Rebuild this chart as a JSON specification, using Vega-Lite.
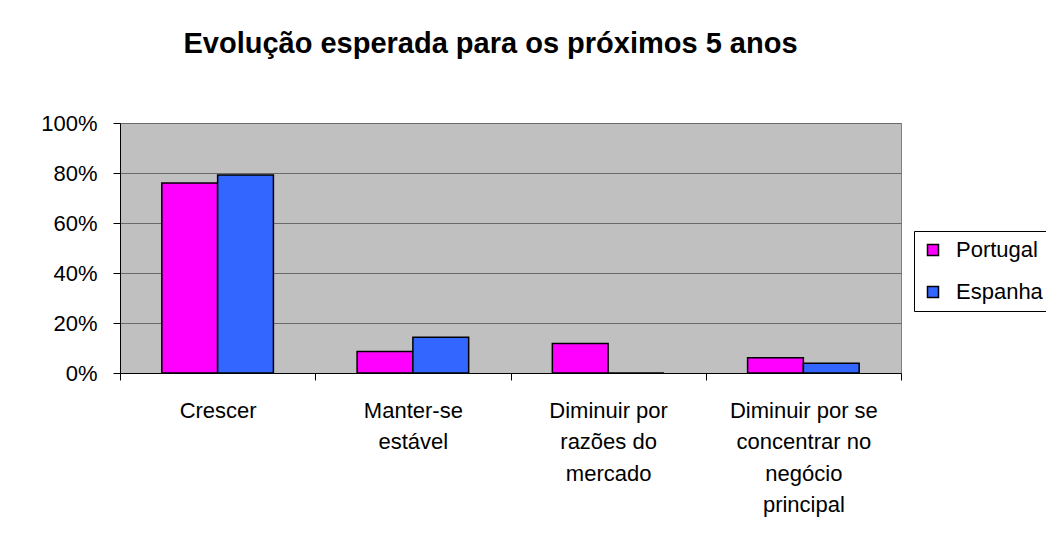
{
  "$schema": "https://vega.github.io/schema/vega-lite/v6.json",
  "width": 781,
  "height": 250,
  "autosize": {"type": "none"},
  "padding": {"left": 120, "top": 123, "right": 145, "bottom": 178},
  "background": "white",
  "title": {
    "text": "Evolução esperada para os próximos 5 anos",
    "font": "Liberation Sans",
    "fontSize": 29,
    "fontWeight": "bold",
    "color": "black",
    "anchor": "middle",
    "frame": "group",
    "baseline": "alphabetic",
    "dx": -20,
    "offset": 30
  },
  "data": {
    "values": [
      {"categoria": "Crescer", "pais": "Portugal", "valor": 0.76},
      {"categoria": "Crescer", "pais": "Espanha", "valor": 0.792},
      {"categoria": "Manter-se estável", "pais": "Portugal", "valor": 0.086},
      {"categoria": "Manter-se estável", "pais": "Espanha", "valor": 0.143},
      {"categoria": "Diminuir por razões do mercado", "pais": "Portugal", "valor": 0.118},
      {"categoria": "Diminuir por razões do mercado", "pais": "Espanha", "valor": 0},
      {"categoria": "Diminuir por se concentrar no negócio principal", "pais": "Portugal", "valor": 0.061},
      {"categoria": "Diminuir por se concentrar no negócio principal", "pais": "Espanha", "valor": 0.039}
    ]
  },
  "mark": {"type": "bar", "stroke": "black", "strokeWidth": 1.5},
  "encoding": {
    "x": {
      "field": "categoria",
      "type": "nominal",
      "sort": ["Crescer", "Manter-se estável", "Diminuir por razões do mercado", "Diminuir por se concentrar no negócio principal"],
      "scale": {"paddingInner": 0, "paddingOuter": 0},
      "axis": {
        "title": null,
        "labelAngle": 0,
        "labelFont": "Liberation Sans",
        "labelFontSize": 22,
        "labelColor": "black",
        "labelBaseline": "top",
        "labelLineHeight": 31.5,
        "labelPadding": 20,
        "labelLimit": 0,
        "tickBand": "extent",
        "tickSize": 7,
        "tickColor": "black",
        "domainColor": "black",
        "labelExpr": "datum.value == 'Manter-se estável' ? ['Manter-se', 'estável'] : datum.value == 'Diminuir por razões do mercado' ? ['Diminuir por', 'razões do', 'mercado'] : datum.value == 'Diminuir por se concentrar no negócio principal' ? ['Diminuir por se', 'concentrar no', 'negócio', 'principal'] : datum.label"
      }
    },
    "xOffset": {
      "field": "pais",
      "type": "nominal",
      "sort": ["Portugal", "Espanha"],
      "scale": {"paddingInner": 0, "paddingOuter": 0.75}
    },
    "y": {
      "field": "valor",
      "type": "quantitative",
      "scale": {"domain": [0, 1], "nice": false},
      "axis": {
        "title": null,
        "values": [0, 0.2, 0.4, 0.6, 0.8, 1],
        "format": ".0%",
        "labelFont": "Liberation Sans",
        "labelFontSize": 22,
        "labelColor": "black",
        "labelPadding": 16,
        "tickSize": 7,
        "tickColor": "black",
        "domainColor": "black",
        "gridColor": "#6a6a6a",
        "gridWidth": 1
      }
    },
    "color": {
      "field": "pais",
      "type": "nominal",
      "scale": {"domain": ["Portugal", "Espanha"], "range": ["#FF00FF", "#3366FF"]},
      "legend": {
        "title": null,
        "orient": "none",
        "legendX": 794,
        "legendY": 108,
        "direction": "vertical",
        "strokeColor": "black",
        "fillColor": "white",
        "padding": 8,
        "symbolType": "square",
        "symbolSize": 121,
        "symbolStrokeColor": "black",
        "symbolStrokeWidth": 1.5,
        "symbolOpacity": 1,
        "labelFont": "Liberation Sans",
        "labelFontSize": 22,
        "labelColor": "black",
        "labelOffset": 12,
        "rowPadding": 20
      }
    }
  },
  "config": {
    "view": {"fill": "#C0C0C0", "stroke": "#808080"}
  }
}
